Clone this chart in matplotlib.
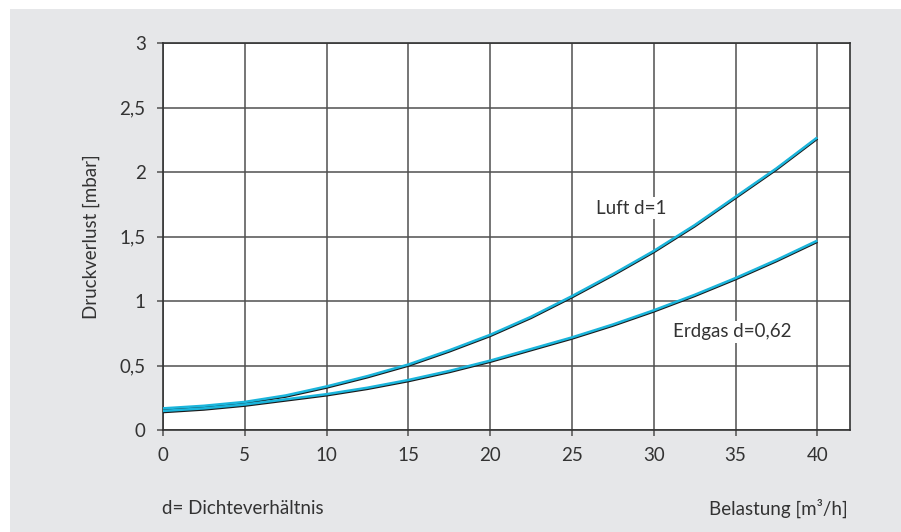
import matplotlib
matplotlib.use("Agg")
import matplotlib.pyplot as plt
import matplotlib.transforms as mtransforms
from matplotlib.patches import Rectangle

plt.rcParams['font.family'] = ['Lato', 'DejaVu Sans']

# data (every 2.5 m3/h)
belastung = [0, 2.5, 5, 7.5, 10, 12.5, 15, 17.5, 20, 22.5, 25, 27.5, 30, 32.5, 35, 37.5, 40]
luft = [0.16, 0.18, 0.21, 0.26, 0.33, 0.41, 0.50, 0.61, 0.73, 0.87, 1.03, 1.20, 1.38, 1.58, 1.80, 2.02, 2.26]
erdgas = [0.14, 0.16, 0.19, 0.23, 0.27, 0.32, 0.38, 0.45, 0.53, 0.62, 0.71, 0.81, 0.92, 1.04, 1.17, 1.31, 1.46]
x_ticks = [0, 5, 10, 15, 20, 25, 30, 35, 40]
y_ticks = [0, 0.5, 1, 1.5, 2, 2.5, 3]
y_labels = ['0', '0,5', '1', '1,5', '2', '2,5', '3']

W, H = 901, 532
fig = plt.figure(figsize=(W / 100, H / 100), dpi=100)
fig.patch.set_facecolor('white')
fig.patches.append(Rectangle((10 / W, 0), 1, (H - 9) / H, transform=fig.transFigure,
                             facecolor='#e6e7e9', edgecolor='none', zorder=-5))

ax = fig.add_axes([163 / W, (H - 430) / H, (850 - 163) / W, (430 - 43) / H])
ax.set_facecolor('white')
ax.set_xlim(0, 42.0)
ax.set_ylim(0, 3)

gridc = '#505050'
ax.set_xticks(x_ticks)
ax.set_yticks(y_ticks)
ax.set_yticklabels(y_labels)
ax.grid(True, color=gridc, lw=1.1)
ax.set_axisbelow(True)
ax.tick_params(length=4.5, width=1.1, color=gridc, labelsize=13.5, labelcolor='#333333', pad=8)
for s in ax.spines.values():
    s.set_color('#333333')
    s.set_linewidth(1.2)

# curves: black line with cyan line drawn slightly above it
up = mtransforms.offset_copy(ax.transData, fig=fig, x=0, y=1.0, units='dots')
for ys in (luft, erdgas):
    ax.plot(belastung, ys, color='#1a1a1a', lw=2.0, solid_capstyle='butt', zorder=3)
    ax.plot(belastung, ys, color='#1bb5dc', lw=1.8, transform=up, solid_capstyle='butt', zorder=4)

box = dict(facecolor='white', edgecolor='none', pad=2)
ax.text(26.5, 1.72, 'Luft d=1', fontsize=13.5, color='#333333', va='center', ha='left', bbox=box, zorder=5)
ax.text(31.2, 0.76, 'Erdgas d=0,62', fontsize=13.5, color='#333333', va='center', ha='left', bbox=box, zorder=5)

ax.set_ylabel('Druckverlust [mbar]', fontsize=13.5, color='#333333', labelpad=14)

fig.text(162 / W, 1 - 508 / H, 'd= Dichteverhältnis', fontsize=13.5, color='#333333', ha='left', va='center')
fig.text(848 / W, 1 - 508 / H, 'Belastung [m³/h]', fontsize=13.5, color='#333333', ha='right', va='center')

fig.savefig('out.png', dpi=100)
